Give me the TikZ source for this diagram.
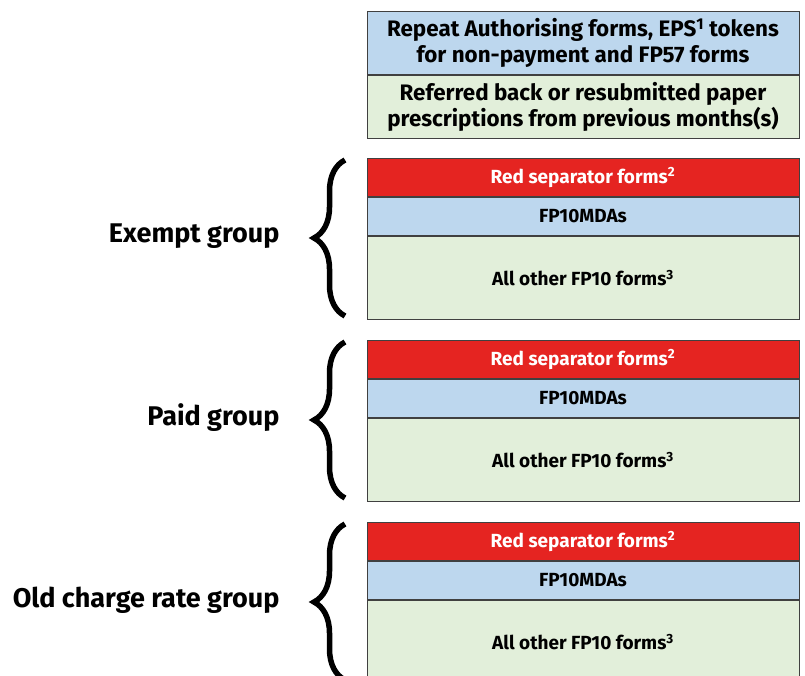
\documentclass[tikz,border=0pt]{standalone}
\usepackage{fontspec}
\setmainfont{Fira Sans}
\usepackage{tikz}
\usepackage{xcolor}
\usetikzlibrary{positioning, decorations.pathreplacing}
\definecolor{sepred}{RGB}{229, 36, 33}
\definecolor{mdablue}{RGB}{189, 215, 238}
\definecolor{formgreen}{RGB}{226, 239, 218}
\definecolor{boxline}{RGB}{64, 64, 64}
\tikzset{
    formbox/.style={rectangle, draw=boxline, line width=1pt, minimum width=432pt, inner sep=0pt, align=center, font=\fontsize{19}{22}\selectfont\bfseries},
    rednode/.style={formbox, fill=sepred, text=white, minimum height=38pt},
    bluenode/.style={formbox, fill=mdablue, minimum height=38pt},
    greennode/.style={formbox, fill=formgreen, minimum height=83pt},
    topnode/.style={formbox, minimum height=63pt, font=\fontsize{22.4}{26}\selectfont\bfseries},
    grouplabel/.style={anchor=east, font=\fontsize{27}{32}\selectfont\bfseries},
    groupbrace/.style={decorate, decoration={brace, amplitude=31pt}, line width=5.5pt}
}

\begin{document}
\begin{tikzpicture}[x=1pt, y=-1pt]
                    \useasboundingbox (0,0) rectangle (805,675);
                    \node[topnode, fill=mdablue, anchor=north] (repeat) at (583,11) {Repeat Authorising forms, EPS\textsuperscript{1} tokens\\for non-payment and FP57 forms};
                    \node[topnode, fill=formgreen, below=0pt of repeat] (referred) {Referred back or resubmitted paper\\prescriptions from previous months(s)};
                    
                    \node[rednode, anchor=north] (exred) at (583,158) {Red separator forms\textsuperscript{2}};
                    \node[bluenode, below=0pt of exred] (exblue) {FP10MDAs};
                    \node[greennode, below=0pt of exblue] (exgreen) {All other FP10 forms\textsuperscript{3}};
                    
                    \node[rednode, anchor=north] (pdred) at (583,340) {Red separator forms\textsuperscript{2}};
                    \node[bluenode, below=0pt of pdred] (pdblue) {FP10MDAs};
                    \node[greennode, below=0pt of pdblue] (pdgreen) {All other FP10 forms\textsuperscript{3}};
                    
                    \node[rednode, anchor=north] (oldred) at (583,522) {Red separator forms\textsuperscript{2}};
                    \node[bluenode, below=0pt of oldred] (oldblue) {FP10MDAs};
                    \node[greennode, below=0pt of oldblue] (oldgreen) {All other FP10 forms\textsuperscript{3}};
                    
                    \node[grouplabel] (exlabel) at (283,236) {Exempt group};
                    \node[grouplabel] (pdlabel) at (283,418) {Paid group};
                    \node[grouplabel] (oldlabel) at (283,600) {Old charge rate group};
                    
                    \coordinate (extop) at (345,160);
                    \coordinate (exbot) at (345,316);
                    \coordinate (pdtop) at (345,342);
                    \coordinate (pdbot) at (345,498);
                    \coordinate (oldtop) at (345,524);
                    \coordinate (oldbot) at (345,680);
                    
                    \draw[groupbrace] (exbot) -- (extop);
                    \draw[groupbrace] (pdbot) -- (pdtop);
                    \draw[groupbrace] (oldbot) -- (oldtop);
                \end{tikzpicture}
\end{document}
